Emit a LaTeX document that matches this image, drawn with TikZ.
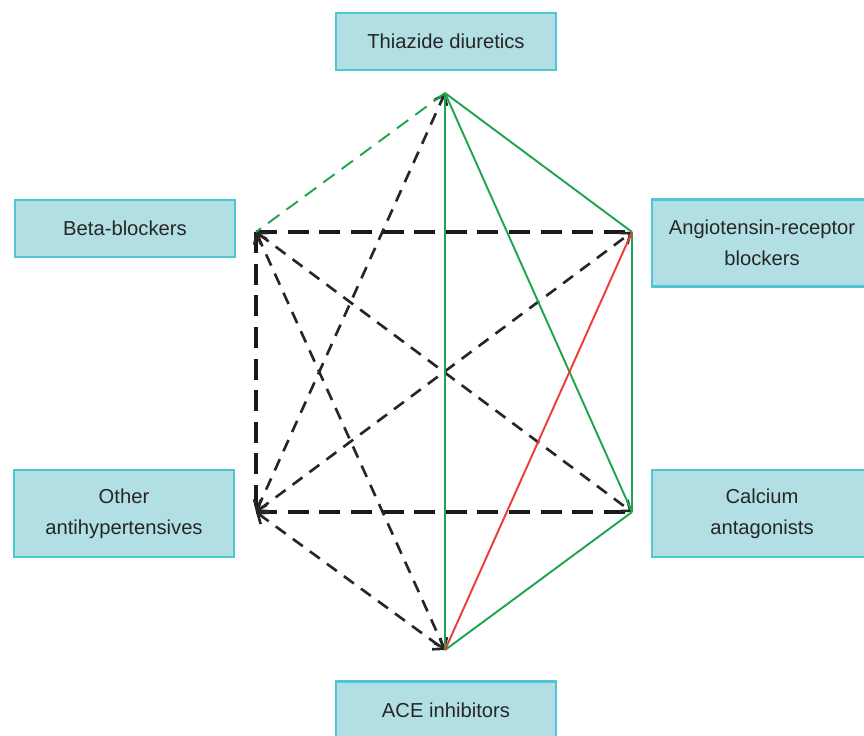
\documentclass[tikz,border=0pt]{standalone}
\usepackage{fontspec}
\setmainfont{Liberation Sans}
\usetikzlibrary{arrows.meta}
\definecolor{boxfill}{HTML}{B2DFE4}
\definecolor{boxline}{HTML}{4EC6D3}
\definecolor{drgreen}{HTML}{1EA54E}
\definecolor{drred}{HTML}{EE3B3B}
\tikzset{
  drug/.style={draw=boxline,line width=1.2pt,fill=boxfill,minimum width=4.4cm,
    minimum height=1.14cm,align=center,font=\fontsize{11.5}{17.6}\selectfont,text=black!85},
  tall/.style={minimum height=1.74cm},
  good/.style={drgreen,line width=1.1pt},
  bad/.style={drred,line width=1.1pt},
  maybe/.style={black!85,line width=1.5pt,dash pattern=on 7pt off 5pt,
    {Straight Barb[length=5pt,width=8pt]}-{Straight Barb[length=5pt,width=8pt]}},
  weak/.style={black!90,line width=2.4pt,dash pattern=on 12pt off 6pt},
}
\begin{document}
\begin{tikzpicture}[x=0.02cm,y=-0.02cm]
  \useasboundingbox (0,0) rectangle (864,735);
  % corners of the hexagon
  \coordinate (T) at (445,93);
  \coordinate (AR) at (632,232);
  \coordinate (CA) at (632,512);
  \coordinate (AC) at (445,650);
  \coordinate (OT) at (256,512);
  \coordinate (BB) at (256,232);
  % boxes
  \node[drug] (thz) at (446,41.5) {Thiazide diuretics};
  \node[drug] (bbk) at (125,228.5) {Beta-blockers};
  \node[drug,tall] (arb) at (762,243) {Angiotensin-receptor\\blockers};
  \node[drug,tall] (oth) at (124,513.5) {Other\\antihypertensives};
  \node[drug,tall] (cal) at (762,513.5) {Calcium\\antagonists};
  \node[drug] (ace) at (446,710) {ACE inhibitors};
  % thick dashed sides
  \draw[weak] (BB) -- (AR);
  \draw[weak] (BB) -- (OT);
  \draw[weak] (OT) -- (CA);
  % thin dashed diagonals
  \draw[maybe] (OT) -- (T);
  \draw[maybe] (BB) -- (CA);
  \draw[maybe] (OT) -- (AR);
  \draw[maybe] (BB) -- (AC);
  \draw[maybe] (OT) -- (AC);
  % green and red
  \draw[good,dash pattern=on 8pt off 5pt] (T) -- (BB);
  \draw[good] (T) -- (AR);
  \draw[good] (T) -- (CA);
  \draw[good] (T) -- (AC);
  \draw[good] (AR) -- (CA);
  \draw[good] (CA) -- (AC);
  \draw[bad] (AR) -- (AC);
\end{tikzpicture}
\end{document}
